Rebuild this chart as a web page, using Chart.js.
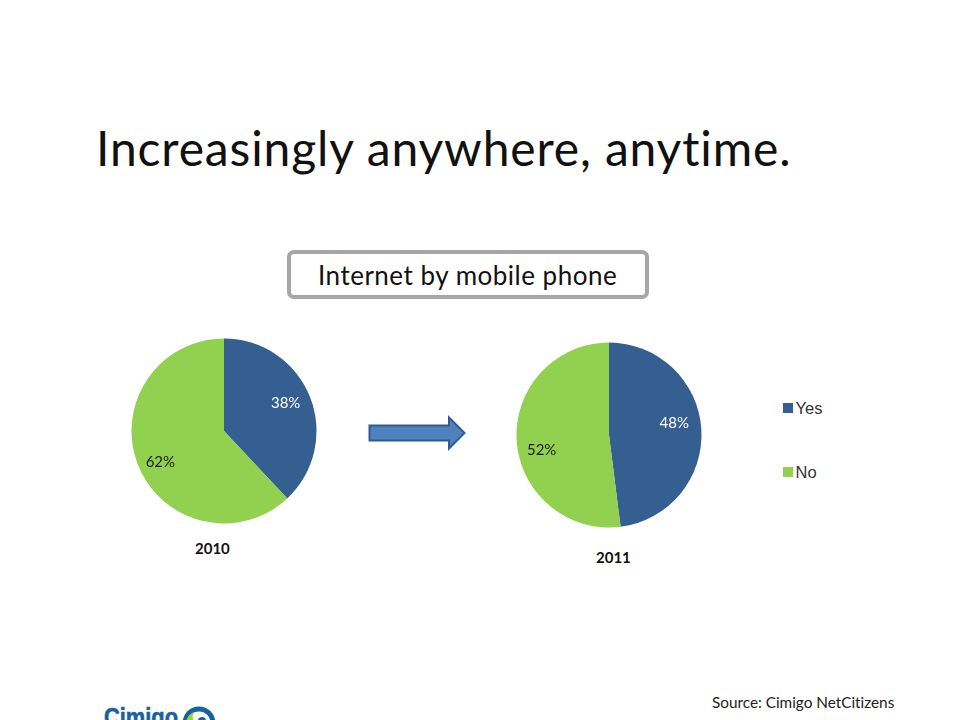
<!DOCTYPE html>
<html><head><meta charset="utf-8">
<script src="https://cdn.jsdelivr.net/npm/chart.js@4"></script>
<style>
html,body{margin:0;padding:0;background:#fff;width:960px;height:720px;overflow:hidden}
#page{position:relative;width:960px;height:720px;overflow:hidden;font-family:Lato,sans-serif;color:#111;font-variant-ligatures:none}
.t{position:absolute;white-space:nowrap;line-height:1}
canvas{position:absolute}
.sw{position:absolute;width:10px;height:10px}
</style></head><body>
<div id="page">
<div class="t" id="title" style="left:96px;top:124px;font-size:48px;letter-spacing:.85px">Increasingly anywhere, anytime.</div>
<div style="position:absolute;left:287px;top:250px;width:354px;height:41px;border:4px solid #a6a6a6;border-radius:7px;background:#fff"></div>
<div class="t" style="left:318px;top:262px;font-size:26px;letter-spacing:.5px">Internet by mobile phone</div>
<canvas id="c1" width="200" height="200" style="left:123.500px;top:331px;width:200px;height:200px"></canvas>
<canvas id="c2" width="200" height="200" style="left:508.500px;top:335px;width:200px;height:200px"></canvas>
<svg style="position:absolute;left:365px;top:414px" width="104" height="40">
<path d="M4.500 11.500H84V3.500L99.500 19L84 34.500V26.500H4.500Z" fill="#4f81bd" stroke="#2f5c8f" stroke-width="2"/></svg>
<div class="t" id="y1" style="left:195px;top:541px;font-size:15px;font-weight:700">2010</div>
<div class="t" id="y2" style="left:596px;top:550px;font-size:15px;font-weight:700">2011</div>
<div class="sw" style="left:783px;top:403px;background:#355f91"></div>
<div class="t" id="l1" style="left:795.500px;top:399.500px;font-size:16.500px;font-family:'Liberation Sans';color:#333">Yes</div>
<div class="sw" style="left:783px;top:467px;background:#92d050"></div>
<div class="t" id="l2" style="left:795.500px;top:463.500px;font-size:16.500px;font-family:'Liberation Sans';color:#333">No</div>
<div class="t" style="left:712px;top:695px;font-size:15.300px;color:#222">Source: Cimigo NetCitizens</div>
<svg style="position:absolute;left:100px;top:700px" width="120" height="20">
<text x="4" y="26" textLength="74" lengthAdjust="spacingAndGlyphs" font-family="Liberation Sans" font-weight="700" font-size="26" fill="#17629f" stroke="#17629f" stroke-width=".6">Cimigo</text>
<circle cx="99" cy="23" r="14" fill="#fff" stroke="#17629f" stroke-width="5"/>
<path d="M86 23A13 13 0 0 1 94 12Q91 18 95 23Z" fill="#a4cf3c"/>
<circle cx="102" cy="21" r="4" fill="#17629f"/>
</svg>
</div>
<script>
const categories = ['Yes', 'No'];
const values2010 = [38, 62];
const values2011 = [48, 52];
const sliceColors = ['#355f91', '#92d050'];
const labelColors = ['#ffffff', '#1a1a1a'];

const pctLabels = {
  id: 'pctLabels',
  afterDatasetsDraw(chart, args, opts) {
    const ctx = chart.ctx;
    chart.getDatasetMeta(0).data.forEach((arc, i) => {
      const p = arc.getProps(['x', 'y', 'startAngle', 'endAngle', 'outerRadius'], true);
      const mid = (p.startAngle + p.endAngle) / 2;
      const n = opts.nudge[i];
      const x = p.x + Math.cos(mid) * p.outerRadius * 0.74 + n[0];
      const y = p.y + Math.sin(mid) * p.outerRadius * 0.74 + n[1];
      ctx.save();
      ctx.font = '15px Lato';
      ctx.fillStyle = labelColors[i];
      ctx.textAlign = 'center';
      ctx.textBaseline = 'middle';
      ctx.fillText(chart.data.datasets[0].data[i] + '%', x, y);
      ctx.restore();
    });
  }
};
function pie(id, values, nudge) {
  new Chart(document.getElementById(id), {
    type: 'pie',
    data: { labels: categories, datasets: [{ data: values, backgroundColor: sliceColors, borderWidth: 0 }] },
    options: {
      responsive: false, animation: false, radius: 92.5,
      plugins: { legend: { display: false }, tooltip: { enabled: false }, pctLabels: { nudge } }
    },
    plugins: [pctLabels]
  });
}
pie('c1', values2010, [[-2, -3], [0, 6]]);
pie('c2', values2011, [[-3, -8], [1, 11]]);
</script>
</body></html>
